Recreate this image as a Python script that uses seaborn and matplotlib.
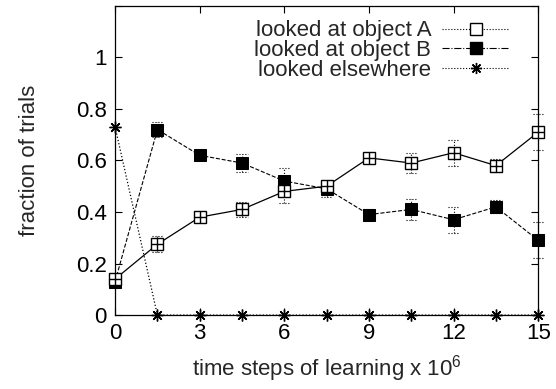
import matplotlib
matplotlib.use("Agg")
import matplotlib.pyplot as plt
from matplotlib.lines import Line2D
import numpy as np
import pandas as pd
import seaborn as sns

# time steps (x 10^6)
steps = [0, 1.5, 3, 4.5, 6, 7.5, 9, 10.5, 12, 13.5, 15]
object_a = [0.14, 0.275, 0.38, 0.41, 0.48, 0.50, 0.61, 0.59, 0.63, 0.58, 0.71]
object_a_err = [0.01, 0.03, 0.01, 0.03, 0.045, 0.02, 0.02, 0.04, 0.05, 0.025, 0.07]
object_b = [0.13, 0.72, 0.62, 0.59, 0.52, 0.49, 0.39, 0.41, 0.37, 0.42, 0.29]
object_b_err = [0.01, 0.03, 0.01, 0.035, 0.05, 0.03, 0.02, 0.04, 0.05, 0.025, 0.07]
elsewhere = [0.73, 0, 0, 0, 0, 0, 0, 0, 0, 0, 0]

labels = ["looked at object A", "looked at object B", "looked elsewhere"]

sns.set_theme(style="ticks")
plt.rcParams["font.family"] = ["Liberation Sans", "DejaVu Sans"]
plt.rcParams["mathtext.default"] = "regular"

df = pd.DataFrame({"step": steps, "a": object_a, "b": object_b, "c": elsewhere})

fig = plt.figure(figsize=(5.56, 3.89), dpi=100)
ax = fig.add_axes([0.207, 0.19, 0.761, 0.795])

asterisk = (8, 2, 0)

# error bars (dotted, gnuplot style)
for vals, errs in [(object_a, object_a_err), (object_b, object_b_err)]:
    eb = ax.errorbar(steps, vals, yerr=errs, fmt="none", ecolor="black",
                     elinewidth=0.8, capsize=0, zorder=2)
    for part in eb[2]:
        part.set_linestyle(":")
        part.set_clip_on(False)
    lo = np.array(vals) - np.array(errs)
    hi = np.array(vals) + np.array(errs)
    x = np.array(steps)
    for y in (lo, hi):
        ax.hlines(y, x - 0.2, x + 0.2, colors="black", linestyles=":",
                  linewidth=0.8, zorder=2, clip_on=False)

sns.lineplot(data=df, x="step", y="c", ax=ax, color="black", linestyle=":",
             linewidth=0.9, marker=asterisk, markersize=8.5, markeredgewidth=1.0,
             markeredgecolor="black", zorder=3, clip_on=False)
sns.lineplot(data=df, x="step", y="b", ax=ax, color="black", linestyle="--",
             dashes=(3, 2), linewidth=0.8, marker="s", markersize=8.5,
             markerfacecolor="black", markeredgecolor="black", zorder=4,
             clip_on=False)
sns.lineplot(data=df, x="step", y="a", ax=ax, color="black", linestyle="-",
             linewidth=0.9, marker="s", markersize=8, markerfacecolor="white",
             markeredgecolor="black", markeredgewidth=1.0, zorder=5,
             clip_on=False)
ax.plot(df["step"], df["a"], linestyle="none", marker="+", markersize=8,
        markeredgewidth=1.0, color="black", zorder=6, clip_on=False)

ax.set_xlim(0, 15)
ax.set_ylim(0, 1.2)
ax.set_xticks([0, 3, 6, 9, 12, 15])
ax.set_yticks([0, 0.2, 0.4, 0.6, 0.8, 1.0, 1.2])
ax.set_yticklabels(["0", "0.2", "0.4", "0.6", "0.8", "1", ""])
ax.tick_params(direction="in", length=5, width=0.8, top=True, right=True,
               labelsize=16, pad=6, colors="black")
for s in ax.spines.values():
    s.set_linewidth(0.9)
    s.set_color("black")

ax.set_xlabel("time steps of learning x 10$^6$", fontsize=16, labelpad=6)
ax.set_ylabel("fraction of trials", fontsize=16, labelpad=26)

handles = [
    Line2D([], [], color="black", linestyle=":", linewidth=0.8, marker="s",
           markersize=8, markerfacecolor="white", markeredgecolor="black"),
    Line2D([], [], color="black", linestyle="-.", linewidth=0.8, marker="s",
           markersize=8, markerfacecolor="black"),
    Line2D([], [], color="black", linestyle=":", linewidth=0.8, marker=asterisk,
           markersize=8),
]
leg = ax.legend(handles, labels, loc="upper right", frameon=False, fontsize=16,
                markerfirst=False, handlelength=3.0, handletextpad=0.5,
                labelspacing=-0.05, borderaxespad=0.25, bbox_to_anchor=(0.965, 1.0))
for t in leg.get_texts():
    t.set_horizontalalignment("right")

fig.savefig("out.png", dpi=100)
